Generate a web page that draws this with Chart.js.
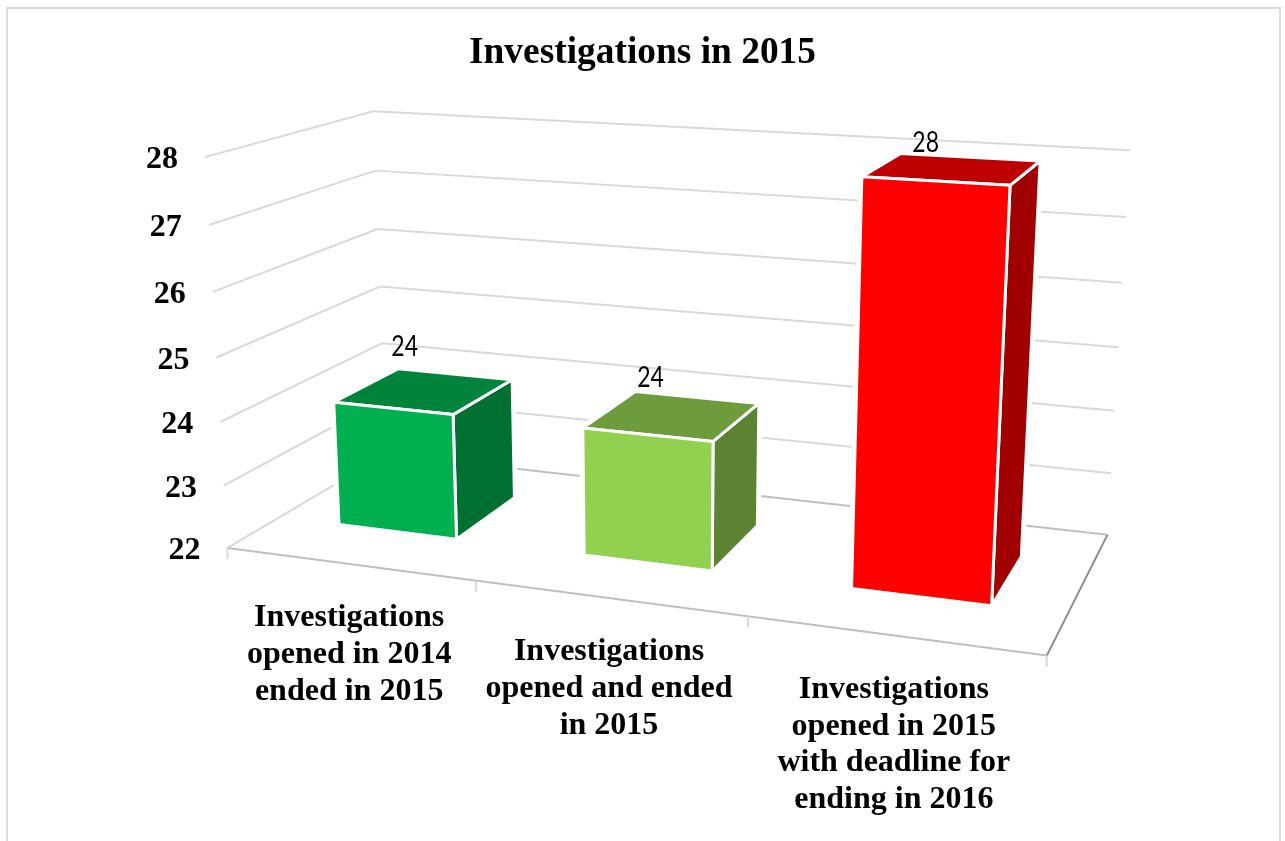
<!DOCTYPE html>
<html>
<head>
<meta charset="utf-8">
<title>Investigations in 2015</title>
<script src="https://cdn.jsdelivr.net/npm/chart.js@4"></script>
<style>
html, body { margin: 0; padding: 0; background: #fff; overflow: hidden; height: 841px; }
#frame { position: absolute; left: 6px; top: 7px; width: 1271px; height: 900px; border: 2px solid #dcdcdc; }
#chart { position: absolute; left: 0; top: 0; }
</style>
</head>
<body>
<div id="frame"></div>
<canvas id="chart" width="1285" height="841"></canvas>
<script>
const categories = [
    ["Investigations", "opened in 2014", "ended in 2015"],
    ["Investigations", "opened and ended", "in 2015"],
    ["Investigations", "opened in 2015", "with deadline for", "ending in 2016"]
];
const values = [24, 24, 28];
const barColors = ["#00B050", "#92D050", "#FF0000"];
const axisMin = 22;
const axisMax = 28;
const labelNudge = [[-50, -27], [-46, -19], [-44, -14]];

// where the 3d box of the plot lands on the page: u along categories, v up the value axis, z into the page
const boxFit = [
    [0, 0, 0, 228, 548], [1, 0, 0, 1047, 655], [1, 0, 1, 1107, 535], [0, 0, 1, 386, 454],
    [0, 1, 0, 205, 157], [0, 1, 1, 374, 111], [1, 1, 1, 1130, 150],
    [0, 0.5, 0, 216, 358], [0, 0.5, 1, 379, 287], [1, 2 / 3, 1, 1122, 283], [1, 1 / 6, 1, 1112, 473],
    [1 / 3, 0, 0, 476, 580], [2 / 3, 0, 0, 748, 617]
];
const barFront = 0.3;
const barBack = 0.72;

function solve(A, b) {
    const n = b.length;
    for (let i = 0; i < n; i++) {
        let p = i;
        for (let r = i + 1; r < n; r++) if (Math.abs(A[r][i]) > Math.abs(A[p][i])) p = r;
        [A[i], A[p]] = [A[p], A[i]];
        [b[i], b[p]] = [b[p], b[i]];
        for (let r = i + 1; r < n; r++) {
            const f = A[r][i] / A[i][i];
            for (let c = i; c < n; c++) A[r][c] -= f * A[i][c];
            b[r] -= f * b[i];
        }
    }
    const x = new Array(n).fill(0);
    for (let i = n - 1; i >= 0; i--) {
        let s = b[i];
        for (let c = i + 1; c < n; c++) s -= A[i][c] * x[c];
        x[i] = s / A[i][i];
    }
    return x;
}

// least squares camera matrix from boxFit
function fitCamera() {
    const N = Array.from({ length: 11 }, () => new Array(11).fill(0));
    const rhs = new Array(11).fill(0);
    const add = (row, t) => {
        for (let i = 0; i < 11; i++) {
            rhs[i] += row[i] * t;
            for (let j = 0; j < 11; j++) N[i][j] += row[i] * row[j];
        }
    };
    boxFit.forEach(([u, v, z, X, Y]) => {
        add([u, v, z, 1, 0, 0, 0, 0, -X * u, -X * v, -X * z], X);
        add([0, 0, 0, 0, u, v, z, 1, -Y * u, -Y * v, -Y * z], Y);
    });
    return solve(N, rhs);
}
const cam = fitCamera();

function project(u, v, z) {
    const w = cam[8] * u + cam[9] * v + cam[10] * z + 1;
    return [(cam[0] * u + cam[1] * v + cam[2] * z + cam[3]) / w,
            (cam[4] * u + cam[5] * v + cam[6] * z + cam[7]) / w];
}

function shade(hex, k) {
    const n = parseInt(hex.slice(1), 16);
    const c = [n >> 16, (n >> 8) & 255, n & 255].map(x => Math.round(x * k));
    return `rgb(${c[0]},${c[1]},${c[2]})`;
}

function segment(ctx, a, b, color, width) {
    ctx.beginPath();
    ctx.moveTo(a[0], a[1]);
    ctx.lineTo(b[0], b[1]);
    ctx.strokeStyle = color;
    ctx.lineWidth = width;
    ctx.stroke();
}

function outline(ctx, pts) {
    ctx.beginPath();
    pts.forEach((p, i) => i ? ctx.lineTo(p[0], p[1]) : ctx.moveTo(p[0], p[1]));
    ctx.closePath();
}

function face(ctx, pts, color) {
    outline(ctx, pts);
    ctx.fillStyle = color;
    ctx.fill();
    ctx.strokeStyle = "#fff";
    ctx.lineWidth = 3;
    ctx.lineJoin = "round";
    ctx.stroke();
}

const box3d = {
    id: "box3d",
    beforeDatasetsDraw(chart) {
        const { ctx, chartArea: area, scales: { x, y } } = chart;
        const vOf = t => (area.bottom - y.getPixelForValue(t)) / area.height;
        ctx.save();
        // value axis: left wall and back wall
        y.ticks.forEach(t => {
            const v = vOf(t.value);
            const a = project(0, v, 0), b = project(0, v, 1), c = project(1, v, 1);
            segment(ctx, a, b, "#d9d9d9", 2);
            segment(ctx, b, c, t.value === axisMin ? "#bfbfbf" : "#d9d9d9", 2);
            ctx.font = "bold 32px 'Liberation Serif'";
            ctx.fillStyle = "#000";
            ctx.textAlign = "right";
            ctx.textBaseline = "middle";
            ctx.fillText(String(t.value), a[0] - 27, a[1] + 3);
        });
        // floor edges and category ticks
        segment(ctx, project(0, 0, 0), project(1, 0, 0), "#bfbfbf", 2);
        segment(ctx, project(1, 0, 0), project(1, 0, 1), "#8c8c8c", 2);
        [0, 1 / 3, 2 / 3, 1].forEach(u => {
            const p = project(u, 0, 0);
            segment(ctx, p, [p[0], p[1] + 11], "#d9d9d9", 2);
        });
        // category labels
        ctx.font = "bold 32px 'Liberation Serif'";
        ctx.fillStyle = "#000";
        ctx.textAlign = "center";
        ctx.textBaseline = "middle";
        categories.forEach((lines, i) => {
            const u = (x.getPixelForValue(i) - area.left) / area.width;
            const p = project(u, 0, 0);
            lines.forEach((line, k) => ctx.fillText(line, p[0], p[1] + 54 + k * 36.8));
        });
        ctx.restore();
    },
    beforeDatasetDraw(chart, args) {
        const { ctx, chartArea: area } = chart;
        ctx.save();
        args.meta.data.forEach((bar, i) => {
            const p = bar.getProps(["x", "y", "base", "width"]);
            const u0 = (p.x - p.width / 2 - area.left) / area.width;
            const u1 = (p.x + p.width / 2 - area.left) / area.width;
            const v0 = (area.bottom - p.base) / area.height;
            const v1 = (area.bottom - p.y) / area.height;
            const c = args.meta.controller.getDataset().backgroundColor[i];
            const fbl = project(u0, v0, barFront), fbr = project(u1, v0, barFront);
            const ftl = project(u0, v1, barFront), ftr = project(u1, v1, barFront);
            const bbr = project(u1, v0, barBack), btr = project(u1, v1, barBack), btl = project(u0, v1, barBack);
            // white halo so grid lines stop short of the bar
            outline(ctx, [fbl, fbr, bbr, btr, btl, ftl]);
            ctx.strokeStyle = "#fff";
            ctx.lineWidth = 7;
            ctx.lineJoin = "round";
            ctx.stroke();
            face(ctx, [fbr, bbr, btr, ftr], shade(c, 0.63));
            face(ctx, [ftl, ftr, btr, btl], shade(c, 0.75));
            face(ctx, [fbl, fbr, ftr, ftl], c);
            // value label, squeezed to the narrow look of the original
            const top = project((u0 + u1) / 2, v1, barBack);
            ctx.save();
            ctx.translate(top[0] + labelNudge[i][0], top[1] + labelNudge[i][1]);
            ctx.scale(0.82, 1);
            ctx.font = "28px Lato";
            ctx.fillStyle = "#000";
            ctx.textAlign = "center";
            ctx.textBaseline = "middle";
            ctx.fillText(String(values[i]), 0, 0);
            ctx.restore();
        });
        ctx.restore();
        return false;
    }
};

new Chart(document.getElementById("chart"), {
    type: "bar",
    data: {
        labels: categories,
        datasets: [{
            data: values,
            base: axisMin,
            backgroundColor: barColors,
            barPercentage: 0.49,
            categoryPercentage: 1
        }]
    },
    options: {
        responsive: false,
        animation: false,
        devicePixelRatio: 1,
        plugins: {
            legend: { display: false },
            tooltip: { enabled: false },
            title: {
                display: true,
                text: "Investigations in 2015",
                color: "#000",
                font: { family: "'Liberation Serif'", size: 37.4, weight: "bold" },
                padding: { top: 31, bottom: 20 }
            }
        },
        scales: {
            x: { display: false },
            y: { display: false, min: axisMin, max: axisMax, ticks: { stepSize: 1 } }
        }
    },
    plugins: [box3d]
});
</script>
</body>
</html>
